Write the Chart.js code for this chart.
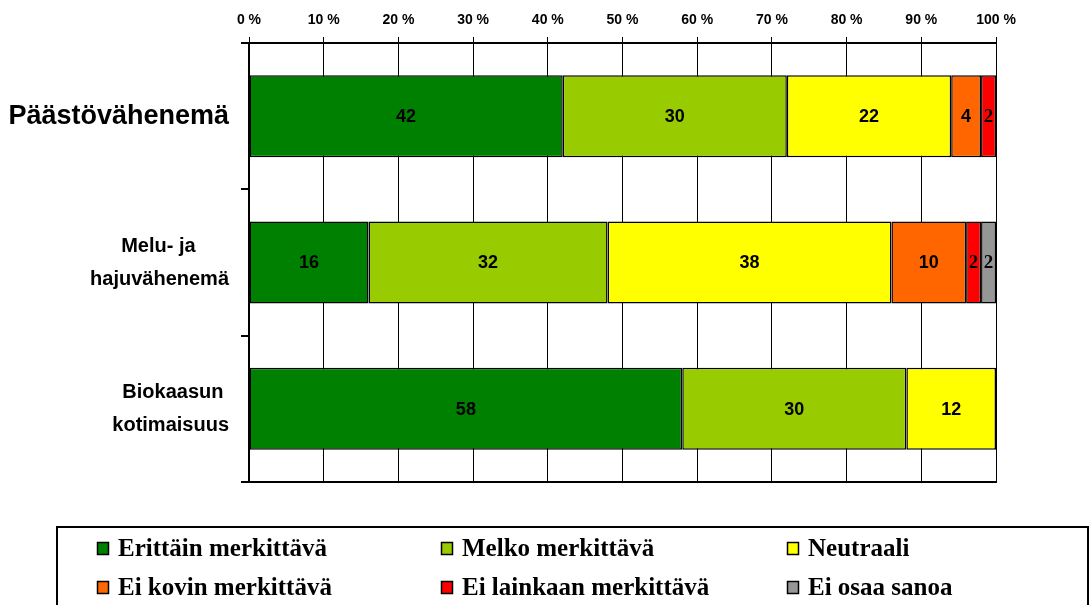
<!DOCTYPE html>
<html>
<head>
<meta charset="utf-8">
<script src="https://cdn.jsdelivr.net/npm/chart.js@4/dist/chart.umd.min.js"></script>
<style>
html,body{margin:0;padding:0;background:#fff;}
#wrap{width:1090px;height:605px;position:relative;}
</style>
</head>
<body>
<div id="wrap"><canvas id="c" width="1090" height="605"></canvas></div>
<script>
const categories = [["Päästövähenemä"], ["Melu- ja", "hajuvähenemä"], ["Biokaasun", "kotimaisuus"]];
const seriesNames = ["Erittäin merkittävä", "Melko merkittävä", "Neutraali", "Ei kovin merkittävä", "Ei lainkaan merkittävä", "Ei osaa sanoa"];
const erittain   = [42, 16, 58];
const melko      = [30, 32, 30];
const neutraali  = [22, 38, 12];
const eiKovin    = [4, 10, 0];
const eiLainkaan = [2, 2, 0];
const eiOsaa     = [0, 2, 0];
const xTicks = [0, 10, 20, 30, 40, 50, 60, 70, 80, 90, 100];
const colors = ["#008000", "#99CC00", "#FFFF00", "#FF6600", "#FF0000", "#969696"];

const seriesValues = [erittain, melko, neutraali, eiKovin, eiLainkaan, eiOsaa];

const datasets = seriesValues.map((vals, i) => ({
  label: seriesNames[i],
  data: vals.map(v => v === 0 ? null : v),
  backgroundColor: colors[i],
  borderColor: "#000",
  borderWidth: 1.5,
  borderSkipped: false,
  barPercentage: 0.56,
  categoryPercentage: 1.0
}));

const yFontSize = idx => idx === 0 ? 27 : 20;
const measureCtx = document.createElement("canvas").getContext("2d");
function centerLines(lines, size) {
  measureCtx.font = "bold " + size + "px 'Liberation Sans', Arial";
  const widths = lines.map(l => measureCtx.measureText(l).width);
  const widest = Math.max(...widths);
  const sp = measureCtx.measureText(" ").width;
  return lines.map((l, k) => l + " ".repeat(Math.round((widest - widths[k]) / 2 / sp)));
}

const valueLabels = {
  id: "valueLabels",
  afterDatasetsDraw(chart) {
    const ctx = chart.ctx;
    ctx.save();
    ctx.fillStyle = "#000";
    ctx.textAlign = "center";
    ctx.textBaseline = "middle";
    chart.data.datasets.forEach((ds, di) => {
      const meta = chart.getDatasetMeta(di);
      meta.data.forEach((bar, i) => {
        const v = ds.data[i];
        if (v == null) return;
        const p = bar.getProps(["x", "base", "y"], true);
        const cx = (p.x + p.base) / 2;
        if (v <= 2) ctx.font = "bold 19px 'Liberation Serif'";
        else ctx.font = "bold 18px 'Liberation Sans', Arial";
        ctx.fillText(String(v), cx, p.y + 1);
      });
    });
    ctx.restore();
  }
};

const customLegend = {
  id: "customLegend",
  afterDraw(chart) {
    const ctx = chart.ctx;
    ctx.save();
    ctx.strokeStyle = "#000";
    ctx.lineWidth = 2;
    ctx.strokeRect(57, 527, 1031, 100);
    const colX = [97, 441, 787];
    const rowY = [548, 587];
    ctx.font = "bold 25px 'Liberation Serif'";
    ctx.textBaseline = "middle";
    ctx.textAlign = "left";
    chart.data.datasets.forEach((ds, i) => {
      const x = colX[i % 3], y = rowY[Math.floor(i / 3)];
      ctx.fillStyle = ds.backgroundColor;
      ctx.fillRect(x, y - 6, 12, 13);
      ctx.lineWidth = 1.5;
      ctx.strokeStyle = "#000";
      ctx.strokeRect(x + 0.5, y - 5.5, 11, 12);
      ctx.fillStyle = "#000";
      ctx.fillText(ds.label, x + 21, y + 2);
    });
    ctx.restore();
  }
};

new Chart(document.getElementById("c"), {
  type: "bar",
  data: { labels: categories, datasets },
  options: {
    indexAxis: "y",
    responsive: false,
    animation: false,
    devicePixelRatio: 1,
    layout: { padding: { left: 0, right: 94, top: 0, bottom: 123 } },
    plugins: { legend: { display: false }, tooltip: { enabled: false } },
    scales: {
      x: {
        position: "top",
        stacked: true,
        min: 0,
        max: 100,
        afterBuildTicks(scale) { scale.ticks = xTicks.map(v => ({ value: v })); },
        afterFit(scale) { scale.height = 43; },
        ticks: {
          color: "#000",
          font: { family: "'Liberation Sans', Arial", weight: "bold", size: 14 },
          padding: 8,
          callback: v => v + " %"
        },
        grid: { color: "#000", lineWidth: 1, tickLength: 6, drawTicks: true },
        border: { display: true, color: "#000", width: 2 }
      },
      x2: {
        position: "bottom",
        axis: "x",
        min: 0,
        max: 100,
        afterFit(scale) { scale.height = 0; },
        ticks: { display: false },
        grid: { display: false },
        border: { display: true, color: "#000", width: 2 }
      },
      y: {
        stacked: true,
        afterFit(scale) { scale.width = 249; scale.paddingTop = 0; scale.paddingBottom = 0; },
        ticks: {
          color: "#000",
          crossAlign: "near",
          padding: 12,
          callback: function(value, index) {
            return centerLines(categories[index], yFontSize(index));
          },
          font: ctx => ({ family: "'Liberation Sans', Arial", weight: "bold", size: yFontSize(ctx.index), lineHeight: 1.65 })
        },
        grid: { offset: true, drawOnChartArea: false, color: "#000", tickLength: 8, lineWidth: 2 },
        border: { display: true, color: "#000", width: 2 }
      }
    }
  },
  plugins: [valueLabels, customLegend]
});
</script>
</body>
</html>
